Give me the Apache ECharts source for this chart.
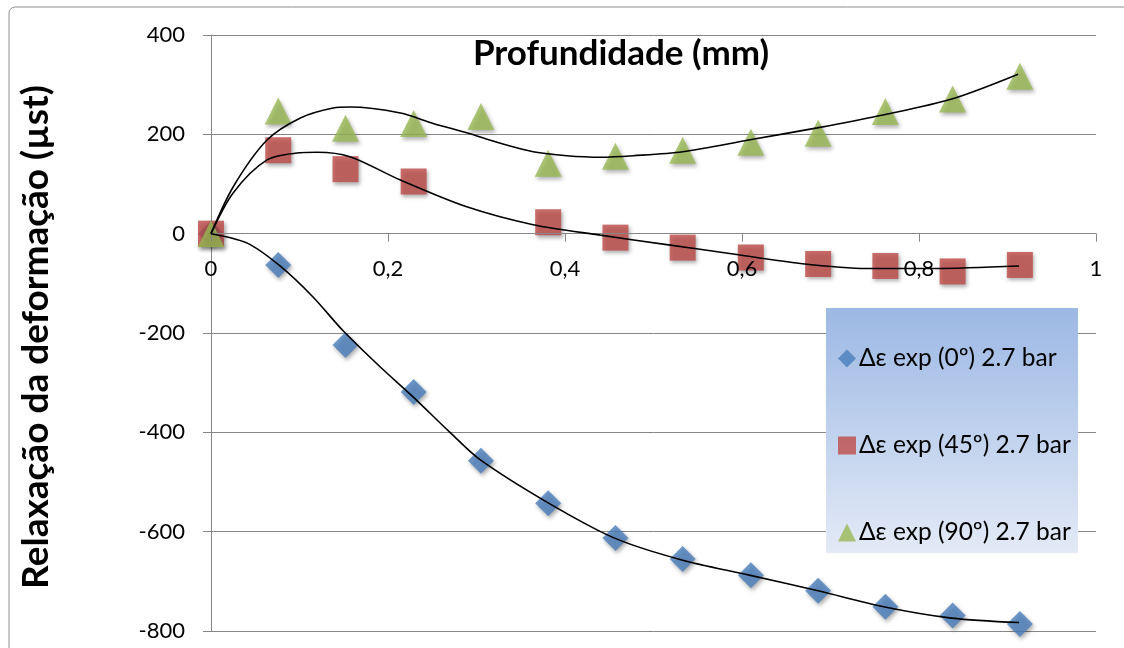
<!DOCTYPE html>
<html><head><meta charset="utf-8">
<script src="https://cdn.jsdelivr.net/npm/echarts@6/dist/echarts.min.js"></script>
<style>html,body{margin:0;padding:0;background:#fff}#c{width:1124px;height:648px}</style>
</head><body><div id="c"></div>
<script>
// Depth (mm) of each measurement
const depth = [0, 0.076, 0.152, 0.229, 0.305, 0.381, 0.457, 0.533, 0.610, 0.686, 0.762, 0.838, 0.914];
// Strain relaxation (µst)
const exp0  = [0, -63, -224, -319, -457, -543, -613, -655, -688, -719, -751, -769, -786];
const exp45 = [0, 168, 130, 105, null, 23, -8, -28, -48, -61, -65, -76, -63];
const exp90 = [0, 247, 212, 222, 236, 142, 156, 168, 184, 202, 246, 271, 317];

// Trend lines
const trend0X = [0, 0.041, 0.078, 0.115, 0.149, 0.191, 0.228, 0.270, 0.304, 0.381, 0.456, 0.532, 0.607, 0.686, 0.760, 0.837, 0.913];
const trend0Y = [0, -19, -65, -127, -195, -268, -328, -400, -455, -542, -613, -657, -687, -719, -751, -774, -783];
const trend45X = [0, 0.025, 0.063, 0.101, 0.120, 0.157, 0.214, 0.289, 0.364, 0.440, 0.515, 0.590, 0.666, 0.741, 0.816, 0.913];
const trend45Y = [0, 82, 148, 163, 164, 155, 108, 54, 18, -3, -22, -41, -60, -70, -70, -65];
const trend90X = [0, 0.025, 0.063, 0.101, 0.138, 0.157, 0.214, 0.251, 0.289, 0.327, 0.364, 0.402, 0.440, 0.477, 0.533, 0.609, 0.685, 0.762, 0.837, 0.912];
const trend90Y = [0, 94, 188, 233, 253, 255, 243, 222, 203, 182, 165, 157, 154, 157, 165, 189, 213, 240, 271, 321];

const seriesNames = ['Δε exp (0º) 2.7 bar', 'Δε exp (45º) 2.7 bar', 'Δε exp (90º) 2.7 bar'];
const titleText = 'Profundidade (mm)';
const yTitleText = 'Relaxação da deformação (µst)';

const zip = (xs, ys) => xs.map((x, i) => [x, ys[i]]).filter(p => p[1] !== null);
const shadow = {shadowColor: 'rgba(0,0,0,0.4)', shadowBlur: 4, shadowOffsetX: 1.5, shadowOffsetY: 2.5};
const FONT = 'Lato, "Open Sans", sans-serif';

const GRID_TOP = 35, GRID_BOTTOM = 17, H = 648, Y_MIN = -800, Y_MAX = 400;
// place the x axis on y = 0
const plotH = H - GRID_TOP - GRID_BOTTOM;
const zeroOffset = -plotH * (0 - Y_MIN) / (Y_MAX - Y_MIN);

const chart = echarts.init(document.getElementById('c'));
chart.setOption({
  animation: false,
  backgroundColor: '#fff',
  grid: {left: 211, right: 28, top: GRID_TOP, bottom: GRID_BOTTOM, containLabel: false, outerBoundsMode: 'none'},
  xAxis: {
    type: 'value', min: 0, max: 1, interval: 0.2, position: 'bottom', offset: zeroOffset, z: 10,
    axisLine: {onZero: false, lineStyle: {color: '#868686', width: 1}},
    axisTick: {show: true, length: 8, inside: false, lineStyle: {color: '#868686'}},
    axisLabel: {color: '#000', fontSize: 22, fontFamily: FONT, margin: 24,
      formatter: v => String(+v.toFixed(1)).replace('.', ',')},
    splitLine: {show: false}
  },
  yAxis: {
    type: 'value', min: Y_MIN, max: Y_MAX, interval: 200, z: 0,
    axisLine: {show: true, onZero: false, lineStyle: {color: '#868686', width: 1}},
    axisTick: {show: true, length: 8, lineStyle: {color: '#868686'}},
    axisLabel: {color: '#000', fontSize: 22, fontFamily: FONT, margin: 26},
    splitLine: {show: true, lineStyle: {color: '#868686', width: 1}}
  },
  legend: {
    orient: 'vertical', left: 833, top: 341, itemWidth: 18, itemHeight: 18, itemGap: 62,
    z: 5,
    textStyle: {fontFamily: FONT, fontSize: 24.5, color: '#000', lineHeight: 18, padding: [0, 0, 0, -2]},
    itemStyle: {shadowBlur: 0, shadowOffsetX: 0, shadowOffsetY: 0},
    data: [
      {name: seriesNames[0], icon: 'diamond'},
      {name: seriesNames[1], icon: 'rect'},
      {name: seriesNames[2], icon: 'triangle'}
    ]
  },
  graphic: {elements: [
    {type: 'rect', z: 0, shape: {x: 9, y: 7, width: 1200, height: 700, r: 6},
      style: {fill: 'none', stroke: '#8e8e8e', lineWidth: 1}},
    {type: 'rect', z: 3, shape: {x: 826, y: 308, width: 252, height: 245},
      style: {fill: new echarts.graphic.LinearGradient(0, 0, 0, 1, [
        {offset: 0, color: '#9cb8e4'}, {offset: 1, color: '#e3eaf6'}])}},
    {type: 'text', z: 5, x: 621, y: 54,
      style: {text: titleText, fontSize: 35, fontWeight: 'bold', fontFamily: FONT, fill: '#000',
        align: 'center', verticalAlign: 'middle', textAlign: 'center', textVerticalAlign: 'middle'}},
    {type: 'text', z: 5, x: 36, y: 337, rotation: Math.PI / 2,
      style: {text: yTitleText, fontSize: 37, fontWeight: 'bold', fontFamily: FONT, fill: '#000',
        align: 'center', verticalAlign: 'middle', textAlign: 'center', textVerticalAlign: 'middle'}}
  ]},
  series: [
    {name: seriesNames[0], type: 'scatter', symbol: 'diamond', symbolSize: 26, z: 1,
      itemStyle: Object.assign({color: '#4a7ebb'}, shadow), data: zip(depth, exp0)},
    {name: seriesNames[1], type: 'scatter', symbol: 'rect', symbolSize: 26, z: 1,
      itemStyle: Object.assign({color: '#be4b48'}, shadow), data: zip(depth, exp45)},
    {name: seriesNames[2], type: 'scatter', symbol: 'triangle', symbolSize: 27, z: 1,
      itemStyle: Object.assign({color: '#98b954'}, shadow), data: zip(depth, exp90)},
    {name: 't0', type: 'line', smooth: 0.3, showSymbol: false, z: 12, silent: true,
      lineStyle: {color: '#000', width: 1.6}, data: zip(trend0X, trend0Y)},
    {name: 't45', type: 'line', smooth: 0.3, showSymbol: false, z: 12, silent: true,
      lineStyle: {color: '#000', width: 1.6}, data: zip(trend45X, trend45Y)},
    {name: 't90', type: 'line', smooth: 0.3, showSymbol: false, z: 12, silent: true,
      lineStyle: {color: '#000', width: 1.6}, data: zip(trend90X, trend90Y)}
  ]
});
</script>
</body></html>
